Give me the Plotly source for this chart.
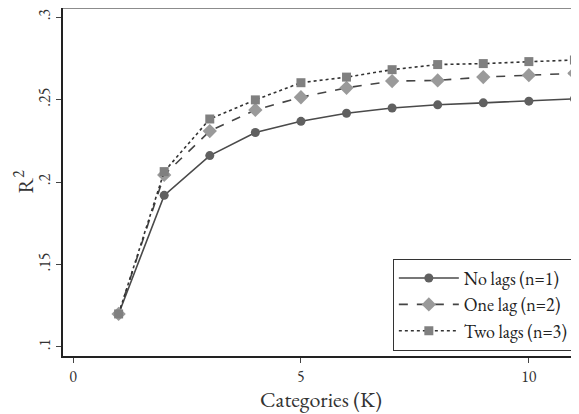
import plotly.graph_objects as go

K = [1, 2, 3, 4, 5, 6, 7, 8, 9, 10, 11]
no_lags = [0.120, 0.1919, 0.2160, 0.2300, 0.2368, 0.2417, 0.2449, 0.2468, 0.2480, 0.2490, 0.2504]
one_lag = [0.120, 0.2043, 0.2309, 0.2437, 0.2514, 0.2571, 0.2612, 0.2616, 0.2636, 0.2648, 0.2659]
two_lags = [0.120, 0.2063, 0.2382, 0.2498, 0.2602, 0.2636, 0.2681, 0.2712, 0.2718, 0.2730, 0.2740]

x_ticks = [0, 5, 10]
y_ticks = [0.1, 0.15, 0.2, 0.25, 0.3]
y_tick_labels = [".1", ".15", ".2", ".25", ".3"]

FONT = "EB Garamond, Liberation Serif, serif"

fig = go.Figure()
fig.add_trace(go.Scatter(
    x=K, y=no_lags, mode="lines+markers", name="No lags (n=1)",
    line=dict(color="#4a4a4a", width=1.6, dash="solid"),
    marker=dict(symbol="circle", size=9, color="#606060"),
))
fig.add_trace(go.Scatter(
    x=K, y=one_lag, mode="lines+markers", name="One lag (n=2)",
    line=dict(color="#444444", width=1.6, dash="dash"),
    marker=dict(symbol="diamond", size=11, color="#9a9a9a"),
))
fig.add_trace(go.Scatter(
    x=K, y=two_lags, mode="lines+markers", name="Two lags (n=3)",
    line=dict(color="#333333", width=1.6, dash="dot"),
    marker=dict(symbol="square", size=9, color="#808080"),
))

fig.update_layout(
    width=571, height=406,
    margin=dict(l=55, r=0, t=0, b=52),
    plot_bgcolor="white", paper_bgcolor="white",
    font=dict(family=FONT, size=16, color="#333333"),
    showlegend=True,
    legend=dict(
        x=0.99, y=0.015, xanchor="right", yanchor="bottom",
        bordercolor="#333333", borderwidth=1, bgcolor="white",
        font=dict(family=FONT, size=18, color="#222222"),
        itemwidth=60, tracegroupgap=0,
    ),
    xaxis=dict(
        range=[-0.22, 11.1], tickvals=x_ticks, ticktext=[str(v) for v in x_ticks],
        showgrid=False, zeroline=False, showline=True, linecolor="#222222", linewidth=1.5,
        ticks="outside", ticklen=5, tickcolor="#444444",
        title=dict(text="Categories (K)", font=dict(family=FONT, size=22, color="#333333"), standoff=12),
        tickfont=dict(family=FONT, size=16),
    ),
    yaxis=dict(
        range=[0.0945, 0.3055], tickvals=y_ticks, ticktext=y_tick_labels,
        showgrid=False, zeroline=False, showline=True, linecolor="#222222", linewidth=1.5,
        ticks="outside", ticklen=5, tickcolor="#444444", tickangle=-90,
        title=dict(text="R<sup>2</sup>", font=dict(family=FONT, size=22, color="#333333"), standoff=8),
        tickfont=dict(family=FONT, size=16),
    ),
)
fig.add_shape(type="line", xref="paper", yref="paper", x0=0, x1=1, y0=1, y1=1,
              line=dict(color="#666666", width=1.5))

fig.write_html("out.html")
